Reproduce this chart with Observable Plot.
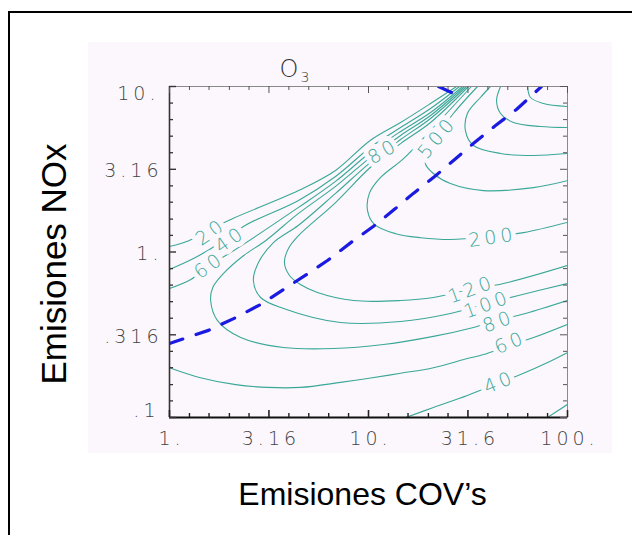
<!DOCTYPE html>
<html><head><meta charset="utf-8">
<script src="https://cdn.jsdelivr.net/npm/d3@7"></script>
<script src="https://cdn.jsdelivr.net/npm/@observablehq/plot@0.6"></script>
<style>
html,body{margin:0;padding:0;background:#fff;width:632px;height:535px;overflow:hidden;}
#wrap{position:relative;width:632px;height:535px;}
#border{position:absolute;left:8px;top:11px;width:700px;height:600px;border-left:2px solid #000;border-top:2px solid #000;}
#panel{position:absolute;left:88px;top:42px;width:524px;height:411px;background:#fcf7fc;}
#chart{position:absolute;left:0;top:0;}
#chart svg{background:transparent !important;overflow:visible;}
</style></head>
<body><div id="wrap"><div id="border"></div><div id="panel"></div><div id="chart"></div></div>
<script>
// axis ticks
const xTickValues = [1, 3.16, 10, 31.6, 100];
const xTickLabels = ["1.", "3.16", "10.", "31.6", "100."];
const yTickValues = [0.1, 0.316, 1, 3.16, 10];
const yTickLabels = [".1", ".316", "1.", "3.16", "10."];
const xMinorTicks = [1.26,1.58,2,2.51,3.98,5.01,6.31,7.94,12.6,15.8,20,25.1,39.8,50.1,63.1,79.4];
const yMinorTicks = [0.126,0.158,0.2,0.251,0.398,0.501,0.631,0.794,1.26,1.58,2,2.51,3.98,5.01,6.31,7.94];

// O3 isopleths: [COV emissions, NOx emissions]
const c20a = [[1,1.08],[1.25,1.17],[1.52,1.33],[2.07,1.59],[4.45,2.35],[6.83,3.11],[10.2,4.72],[14.5,6.06],[20.5,7.89],[27.7,10]];
const c40a = [[1,0.784],[1.35,0.926],[1.85,1.16],[2.41,1.45],[4.45,2.05],[6.83,2.86],[10.2,4.28],[14.5,5.65],[20.5,7.36],[28.7,10]];
const c60a = [[1,0.602],[1.28,0.682],[1.55,0.818],[2.03,0.993],[4.45,1.86],[6.83,2.67],[10.2,3.99],[14.5,5.35],[20.5,6.96],[29.7,10]];
const c60b = [[1,0.200],[1.43,0.174],[2.15,0.158],[3.11,0.152],[4.55,0.152],[7.23,0.163],[9.89,0.172],[14.5,0.185],[21.2,0.200],[31.4,0.227],[37.8,0.240],[50.5,0.272],[67.5,0.304],[100,0.365]];
const c40b = [[15.4,0.1],[21.2,0.115],[31.4,0.136],[44.5,0.160],[60.1,0.185],[77.5,0.212],[100,0.247]];
const c20b = [[79.3,0.1],[100,0.120]];
const c80 = [[30.4,10],[20.5,6.68],[14.5,5.06],[10.2,3.72],[6.83,2.49],[4.45,1.71],[3.04,1.17],[2.36,0.952],[1.87,0.742],[1.65,0.610],[1.61,0.509],[1.74,0.386],[2.28,0.304],[3.74,0.265],[6.67,0.261],[11.9,0.276],[21.2,0.309],[33.7,0.350],[44.5,0.386],[61.5,0.425],[100,0.509]];
const c100 = [[31.1,10],[20.5,6.41],[14.5,4.78],[10.2,3.47],[6.83,2.26],[4.45,1.45],[3.33,1.14],[2.80,0.864],[2.64,0.673],[2.87,0.531],[3.74,0.456],[7.23,0.375],[14.5,0.380],[25.8,0.425],[37.8,0.482],[56.7,0.546],[100,0.645]];
const c120 = [[31.8,10],[20.5,6.06],[14.5,4.52],[10.2,3.24],[6.83,1.99],[4.40,1.24],[3.96,1.05],[3.78,0.864],[4.01,0.721],[4.55,0.636],[5.54,0.569],[8.41,0.509],[14.5,0.509],[21.2,0.531],[32.2,0.593],[47.7,0.645],[100,0.829]];
const c200 = [[32.9,10],[20.5,5.42],[15.0,3.67],[11.5,2.82],[10.1,2.26],[9.89,1.78],[10.7,1.47],[13.7,1.29],[18.3,1.22],[25.8,1.19],[41.0,1.24],[60.1,1.31],[100,1.51]];
const c500 = [[35.3,10],[26.7,6.87],[22.2,5.06],[20.5,4.11],[19.3,3.43],[21.2,2.98],[25.8,2.59],[37.8,2.35],[67.5,2.45],[100,2.70]];
const cInner1 = [[41.0,10],[36.5,8.58],[31.4,6.87],[30.7,5.42],[33.7,4.40],[46.1,3.94],[67.5,3.83],[100,3.94]];
const cInner2 = [[46.1,10],[44.0,8.23],[46.1,6.87],[53.5,6.06],[73.1,5.73],[100,5.65]];
const cInner3 = [[63.0,10],[65.2,8.58],[75.8,7.89],[100,7.57]];

// ridge line (dashed)
const ridge = [[1,0.280],[1.57,0.336],[2.10,0.396],[2.87,0.482],[3.74,0.593],[4.88,0.731],[6.22,0.888],[8.31,1.16],[10.6,1.43],[13.5,1.81],[16.8,2.26],[21.5,2.86],[27.1,3.62],[34.1,4.59],[43.5,5.81],[55.4,7.26],[74.0,10]];
const ridgeTop = [[22.5,10],[26.1,9.20]];

// contour labels
const labelText = ["60","20","40","80","500","200","120","100","80","60","40"];
const labelCov = [1.55,1.58,1.98,11.6,21.7,41.0,32.2,38.7,44.0,50.5,44.5];
const labelNox = [0.83,1.32,1.19,4.05,4.92,1.22,0.593,0.482,0.380,0.284,0.163];
const labelAngle = [-35,-35,-35,-30,-50,-8,-20,-20,-20,-22,-22];

const TEAL = "#3aa898";
const PANEL = "#fcf7fc";
const contourList = [c20a,c40a,c60a,c60b,c40b,c20b,c80,c100,c120,c200,c500,cInner1,cInner2,cInner3];
const contourRows = contourList.flatMap((pts, id) => pts.map(([x, y]) => ({x, y, id})));
const labels = labelText.map((t, i) => ({t, x: labelCov[i], y: labelNox[i], r: labelAngle[i]}));
const xTicks = xTickValues.map((v, i) => ({v, l: xTickLabels[i]}));
const yTicks = yTickValues.map((v, i) => ({v, l: yTickLabels[i]}));
const PW = 398, PH = 331;
const tickFont = {fontFamily: "DejaVu Sans", fontSize: 19, fontWeight: 200, fill: "#444"};

const chart = Plot.plot({
  width: 632, height: 535,
  marginLeft: 169, marginRight: 65, marginTop: 86, marginBottom: 118,
  x: {type: "log", domain: [1, 100], axis: null},
  y: {type: "log", domain: [0.1, 10], axis: null},
  style: {background: "transparent", overflow: "visible"},
  marks: [
    Plot.line(contourRows, {x: "x", y: "y", z: "id", stroke: TEAL, strokeWidth: 1.1, curve: "catmull-rom", clip: true}),
    Plot.line(ridge, {x: d => d[0], y: d => d[1], stroke: "#1a1ae0", strokeWidth: 3.2, strokeDasharray: "14,14", clip: true}),
    Plot.line(ridgeTop, {x: d => d[0], y: d => d[1], stroke: "#1a1ae0", strokeWidth: 3.2, clip: true}),
    Plot.text(labels, {x: "x", y: "y", text: "t", rotate: "r", dx: 2, fill: TEAL, stroke: PANEL, strokeWidth: 10, fontFamily: "DejaVu Sans", fontSize: 19, fontWeight: 200}),
    // frame and ticks
    Plot.frame({stroke: "#8a8a8a", strokeWidth: 1}),
    Plot.ruleX([1], {stroke: "#333", strokeWidth: 1.6}),
    Plot.ruleY([0.1], {stroke: "#111", strokeWidth: 1.8}),
    Plot.tickX(xTickValues, {x: d => d, insetBottom: PH - 7, stroke: "#555"}),
    Plot.tickX(xTickValues, {x: d => d, insetTop: PH - 7, stroke: "#222", strokeWidth: 1.6}),
    Plot.tickX(xMinorTicks, {x: d => d, insetBottom: PH - 4, stroke: "#555"}),
    Plot.tickX(xMinorTicks, {x: d => d, insetTop: PH - 4, stroke: "#222", strokeWidth: 1.4}),
    Plot.tickY(yTickValues, {y: d => d, insetRight: PW - 7, stroke: "#333", strokeWidth: 1.4}),
    Plot.tickY(yTickValues, {y: d => d, insetLeft: PW - 7, stroke: "#555"}),
    Plot.tickY(yMinorTicks, {y: d => d, insetRight: PW - 4, stroke: "#333", strokeWidth: 1.3}),
    Plot.tickY(yMinorTicks, {y: d => d, insetLeft: PW - 4, stroke: "#555"}),
    // tick labels
    Plot.text(xTicks, {x: "v", text: "l", frameAnchor: "bottom", dy: 21, lineAnchor: "middle", dx: 2, ...tickFont}),
    Plot.text(yTicks.filter(d => d.v > 0.1 && d.v < 10), {y: "v", text: "l", frameAnchor: "left", dx: -7, dy: 2, textAnchor: "end", lineAnchor: "middle", ...tickFont}),
    Plot.text(yTicks.filter(d => d.v === 10), {y: "v", text: "l", frameAnchor: "left", dx: -10, dy: 7, textAnchor: "end", lineAnchor: "middle", ...tickFont}),
    Plot.text(yTicks.filter(d => d.v === 0.1), {y: "v", text: "l", frameAnchor: "left", dx: -10, dy: -7, textAnchor: "end", lineAnchor: "middle", ...tickFont}),
    // title O3
    Plot.text(["O"], {frameAnchor: "top-left", dx: 110, dy: -10, lineAnchor: "bottom", fontFamily: "DejaVu Sans", fontWeight: 200, fontSize: 24, fill: "#333"}),
    Plot.text(["3"], {frameAnchor: "top-left", dx: 131, dy: -5, lineAnchor: "bottom", fontFamily: "DejaVu Sans", fontWeight: 200, fontSize: 14, fill: "#333"}),
    // axis titles
    Plot.text(["Emisiones COV’s"], {frameAnchor: "bottom", dx: -6, dy: 87, lineAnchor: "bottom", fontFamily: "Liberation Sans", fontSize: 32, fill: "#000"}),
    Plot.text(["Emisiones NOx"], {frameAnchor: "left", dx: -104, dy: 12, rotate: -90, textAnchor: "middle", lineAnchor: "bottom", fontFamily: "Liberation Sans", fontSize: 35, fill: "#000"})
  ]
});
d3.select(chart).selectAll('g[font-size="19"]').style("letter-spacing", "4px");
document.getElementById("chart").appendChild(chart);
</script>
</body></html>
